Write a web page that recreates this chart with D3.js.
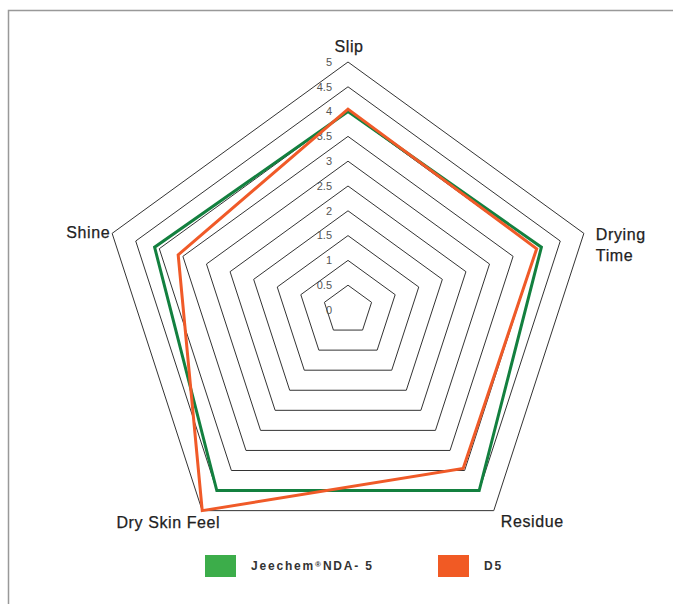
<!DOCTYPE html>
<html>
<head>
<meta charset="utf-8">
<script src="https://cdn.jsdelivr.net/npm/d3@7"></script>
<style>
  body { margin: 0; background: #fff; }
  svg { display: block; font-family: "Liberation Sans", Arial, sans-serif; }
</style>
</head>
<body>
<svg id="chart"></svg>
<script>
// data
const axes = ["Slip", "Drying Time", "Residue", "Dry Skin Feel", "Shine"];
const jeechem = [4.0, 4.1, 4.5, 4.5, 4.1];
const d5 = [4.05, 4.0, 3.95, 5.0, 3.6];
const ticks = [0, 0.5, 1, 1.5, 2, 2.5, 3, 3.5, 4, 4.5, 5];
const seriesNames = ["Jeechem", "D5"];

const width = 673, height = 604;
const cx = 348, cy = 310, R = 248;

const svg = d3.select("#chart").attr("width", width).attr("height", height);

// frame
svg.append("rect")
  .attr("x", 8.5).attr("y", 10.5)
  .attr("width", 720).attr("height", 700)
  .attr("fill", "none").attr("stroke", "#999").attr("stroke-width", 1.5);

const r = d3.scaleLinear().domain([0, 5]).range([0, R]);
const angle = d3.scalePoint().domain(axes).range([0, 2 * Math.PI * (axes.length - 1) / axes.length]);

const g = svg.append("g").attr("transform", `translate(${cx},${cy})`);

const ring = d3.lineRadial()
  .angle(d => angle(d.axis))
  .radius(d => r(d.value))
  .curve(d3.curveLinearClosed);

// grid rings
g.selectAll("path.ring")
  .data(ticks.filter(t => t > 0))
  .join("path")
  .attr("class", "ring")
  .attr("d", t => ring(axes.map(a => ({axis: a, value: t}))))
  .attr("fill", "none")
  .attr("stroke", "#333")
  .attr("stroke-width", 1);

// tick labels
g.selectAll("text.tick")
  .data(ticks)
  .join("text")
  .attr("class", "tick")
  .attr("x", -16)
  .attr("y", t => -r(t))
  .attr("dy", "0.35em")
  .attr("text-anchor", "end")
  .attr("font-size", 11)
  .attr("fill", "#555")
  .text(t => t);

// series
const colors = ["#13803f", "#f05a28"];
[jeechem, d5].forEach((vals, i) => {
  g.append("path")
    .attr("class", "series")
    .attr("d", ring(axes.map((a, j) => ({axis: a, value: vals[j]}))))
    .attr("fill", "none")
    .attr("stroke", colors[i])
    .attr("stroke-width", 3)
    .attr("stroke-linejoin", "miter");
});

// axis labels
function pt(a, v) {
  const t = angle(a);
  return [Math.sin(t) * r(v), -Math.cos(t) * r(v)];
}
const labelPos = {
  "Slip": {dx: 1, dy: -14, anchor: "middle"},
  "Drying Time": {dx: 12, dy: 3, anchor: "start"},
  "Residue": {dx: 7, dy: 12, anchor: "start"},
  "Dry Skin Feel": {dx: 18, dy: 13, anchor: "end"},
  "Shine": {dx: -2, dy: 1, anchor: "end"}
};
axes.forEach(a => {
  const [x, y] = pt(a, 5);
  const p = labelPos[a];
  const lines = a === "Drying Time" ? ["Drying", "Time"] : [a];
  const t = g.append("text")
    .attr("x", x + p.dx)
    .attr("y", y + p.dy)
    .attr("text-anchor", p.anchor)
    .attr("dominant-baseline", "middle")
    .attr("font-size", 16)
    .attr("letter-spacing", 0.6)
    .attr("fill", "#222")
    .attr("stroke", "#222")
    .attr("stroke-width", 0.25);
  lines.forEach((l, k) => {
    t.append("tspan").attr("x", x + p.dx).attr("dy", k === 0 ? 0 : 21).text(l);
  });
});

// legend
const legendColors = ["#3cad4a", "#f15a24"];
const legend = svg.append("g");
const lx = d3.scaleOrdinal().domain(seriesNames).range([205, 438]);
seriesNames.forEach((s, i) => {
  legend.append("rect")
    .attr("x", lx(s)).attr("y", 555)
    .attr("width", 31).attr("height", 22)
    .attr("fill", legendColors[i]);
});
const lt1 = legend.append("text")
  .attr("x", lx("Jeechem") + 46).attr("y", 570)
  .attr("font-size", 12).attr("font-weight", "bold")
  .attr("letter-spacing", 1.8).attr("fill", "#333");
lt1.append("tspan").text("Jeechem");
lt1.append("tspan").attr("font-size", 8).attr("baseline-shift", "40%").attr("letter-spacing", 2).text("®");
lt1.append("tspan").text("NDA- 5");
legend.append("text")
  .attr("x", lx("D5") + 46).attr("y", 570)
  .attr("font-size", 12).attr("font-weight", "bold")
  .attr("letter-spacing", 1.8).attr("fill", "#333")
  .text("D5");
</script>
</body>
</html>
